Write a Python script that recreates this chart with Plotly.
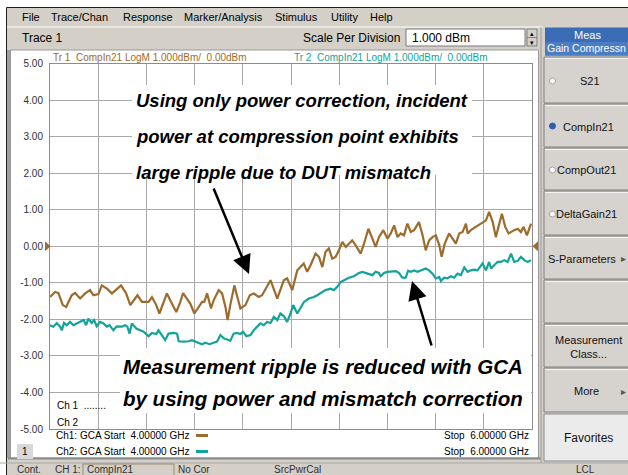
import plotly.graph_objects as go

# ---------------- data ----------------
freq_tr1 = [4.000, 4.021, 4.035, 4.053, 4.067, 4.090, 4.104, 4.125, 4.146, 4.166,
            4.180, 4.201, 4.215, 4.236, 4.257, 4.277, 4.295, 4.316, 4.333, 4.353,
            4.363, 4.381, 4.409, 4.423, 4.441, 4.454, 4.471, 4.485, 4.502, 4.524,
            4.541, 4.552, 4.568, 4.582, 4.599, 4.617, 4.631, 4.640, 4.652, 4.668,
            4.679, 4.700, 4.714, 4.728, 4.737, 4.748, 4.765, 4.779, 4.790, 4.811,
            4.829, 4.845, 4.866, 4.880, 4.901, 4.915, 4.943, 4.970, 4.984, 5.005,
            5.026, 5.040, 5.053, 5.067, 5.081, 5.102, 5.116, 5.130, 5.143, 5.157,
            5.171, 5.185, 5.199, 5.213, 5.227, 5.240, 5.254, 5.268, 5.289, 5.303,
            5.321, 5.338, 5.351, 5.365, 5.383, 5.400, 5.414, 5.428, 5.442, 5.455,
            5.469, 5.483, 5.497, 5.511, 5.531, 5.546, 5.559, 5.573, 5.587, 5.601,
            5.615, 5.625, 5.638, 5.656, 5.670, 5.684, 5.698, 5.712, 5.726, 5.733,
            5.746, 5.767, 5.788, 5.809, 5.822, 5.837, 5.850, 5.864, 5.875, 5.889,
            5.903, 5.926, 5.941, 5.954, 5.965, 5.979, 5.996]
comp_tr1 = [-1.39, -1.25, -1.28, -1.61, -1.66, -1.34, -1.28, -1.43, -1.29, -1.20,
            -1.34, -1.31, -1.07, -1.16, -1.29, -1.16, -1.07, -1.29, -1.61, -1.43,
            -1.34, -1.52, -1.52, -1.39, -1.61, -1.84, -1.52, -1.29, -1.52, -1.80,
            -1.52, -1.28, -1.43, -1.57, -1.84, -1.66, -1.52, -1.52, -1.29, -1.70,
            -1.48, -1.20, -1.29, -1.66, -2.02, -1.61, -1.07, -1.43, -1.70, -1.61,
            -1.34, -1.29, -1.39, -1.34, -1.07, -0.93, -1.43, -0.93, -0.88, -1.20,
            -0.66, -0.57, -0.47, -0.70, -0.52, -0.20, -0.29, -0.57, -0.16, -0.06,
            -0.34, -0.29, -0.11, 0.12, -0.02, 0.07, 0.16, 0.03, -0.20, 0.07,
            0.48, 0.21, -0.02, 0.25, 0.44, 0.21, 0.35, 0.57, 0.25, 0.35,
            0.30, 0.62, 0.39, 0.44, 0.66, 0.30, -0.11, 0.16, 0.25, 0.30,
            0.03, -0.29, 0.07, 0.35, 0.21, 0.07, 0.35, 0.39, 0.62, 0.35,
            0.44, 0.53, 0.62, 0.71, 0.94, 0.66, 0.25, 0.62, 0.89, 0.53,
            0.35, 0.44, 0.48, 0.39, 0.53, 0.30, 0.62]

freq_tr2 = [4.000, 4.014, 4.028, 4.042, 4.049, 4.058, 4.069, 4.083, 4.097, 4.111,
            4.125, 4.139, 4.150, 4.159, 4.173, 4.183, 4.194, 4.208, 4.222, 4.236,
            4.247, 4.263, 4.277, 4.298, 4.312, 4.321, 4.330, 4.340, 4.358, 4.374,
            4.388, 4.409, 4.423, 4.441, 4.450, 4.464, 4.478, 4.492, 4.513, 4.527,
            4.534, 4.554, 4.575, 4.589, 4.603, 4.617, 4.631, 4.644, 4.662, 4.679,
            4.693, 4.707, 4.721, 4.735, 4.748, 4.762, 4.776, 4.790, 4.801, 4.815,
            4.832, 4.845, 4.859, 4.873, 4.887, 4.901, 4.915, 4.929, 4.943, 4.956,
            4.970, 4.984, 4.998, 5.009, 5.026, 5.040,
            5.053, 5.074, 5.095, 5.109, 5.123, 5.143, 5.164, 5.178, 5.192, 5.206,
            5.220, 5.240, 5.261, 5.282, 5.296, 5.310, 5.324, 5.338, 5.351, 5.365,
            5.372, 5.386, 5.400, 5.414, 5.435, 5.448, 5.462, 5.476, 5.486, 5.497,
            5.511, 5.525, 5.538, 5.559, 5.573, 5.587, 5.601, 5.615, 5.622, 5.635,
            5.649, 5.663, 5.677, 5.691, 5.705, 5.719, 5.733, 5.746, 5.760, 5.774,
            5.795, 5.809, 5.822, 5.830, 5.843, 5.857, 5.871, 5.885, 5.899, 5.913,
            5.926, 5.941, 5.954, 5.968, 5.982, 5.996]
comp_tr2 = [-2.16, -2.20, -2.10, -2.20, -2.30, -2.10, -2.16, -2.07, -2.16, -2.11,
            -2.07, -2.02, -2.16, -1.98, -2.10, -2.02, -2.19, -2.07, -2.11, -2.20,
            -2.16, -2.30, -2.19, -2.20, -2.16, -2.20, -2.39, -2.11, -2.25, -2.30,
            -2.34, -2.46, -2.37, -2.40, -2.30, -2.43, -2.57, -2.39, -2.37, -2.39,
            -2.60, -2.61, -2.60, -2.57, -2.61, -2.64, -2.68, -2.64, -2.68, -2.64,
            -2.61, -2.43, -2.52, -2.55, -2.59, -2.39, -2.37, -2.40, -2.34, -2.46,
            -2.43, -2.30, -2.20, -2.11, -2.16, -2.07, -2.10, -1.93, -2.02, -1.84,
            -1.91, -2.07, -1.84, -1.61, -1.84, -1.68,
            -1.53, -1.43, -1.39, -1.34, -1.29, -1.20, -1.16, -1.20, -1.11, -0.98,
            -0.93, -0.86, -0.82, -0.73, -0.70, -0.73, -0.75, -0.79, -0.70, -0.73,
            -0.82, -0.73, -0.70, -0.70, -0.68, -0.73, -0.86, -0.86, -0.67, -0.70,
            -0.66, -0.70, -0.67, -0.61, -0.66, -0.75, -0.88, -0.84, -0.95, -0.86,
            -0.88, -0.82, -0.86, -0.75, -0.79, -0.58, -0.70, -0.66, -0.64, -0.66,
            -0.47, -0.66, -0.43, -0.61, -0.52, -0.43, -0.43, -0.38, -0.43, -0.20,
            -0.43, -0.40, -0.29, -0.38, -0.43, -0.38]

y_tick_values = [5, 4, 3, 2, 1, 0, -1, -2, -3, -4, -5]
y_tick_labels = ["5.00", "4.00", "3.00", "2.00", "1.00", "0.00",
                 "-1.00", "-2.00", "-3.00", "-4.00", "-5.00"]
freq_start, freq_stop, freq_div = 4.0, 6.0, 0.2
ref_level = 0.0

menu_items = ["File", "Trace/Chan", "Response", "Marker/Analysis", "Stimulus", "Utility", "Help"]
tr1_header = "Tr 1  CompIn21 LogM 1.000dBm/  0.00dBm"
tr2_header = "Tr 2  CompIn21 LogM 1.000dBm/  0.00dBm"
callout_top = ["Using only power correction, incident",
               "power at compression point exhibits",
               "large ripple due to DUT mismatch"]
callout_bottom = ["Measurement ripple is reduced with GCA",
                  "by using power and mismatch correction"]

# ---------------- layout helpers ----------------
W, H = 628, 475
def X(p): return p / W
def Y(p): return 1 - p / H

BROWN = "#9d6b2b"
TEAL = "#12a39b"
UI = "#d4d0c8"
UIF = "Liberation Sans, Arial, sans-serif"
CALLF = "Liberation Sans, Arial, sans-serif"

shapes, annotations = [], []

def rect(x0, y0, x1, y1, fill, line=None, lw=1, layer="below"):
    shapes.append(dict(type="rect", xref="paper", yref="paper",
                       x0=X(x0), x1=X(x1), y0=Y(y1), y1=Y(y0),
                       fillcolor=fill, layer=layer,
                       line=dict(color=line if line else fill, width=lw if line else 0)))

def seg(x0, y0, x1, y1, color, w=1, layer="below"):
    shapes.append(dict(type="line", xref="paper", yref="paper",
                       x0=X(x0), x1=X(x1), y0=Y(y0), y1=Y(y1),
                       line=dict(color=color, width=w), layer=layer))

def text(x, y, s, size=11, color="#000000", xanchor="left", family=UIF, bg=None, **kw):
    d = dict(xref="paper", yref="paper", x=X(x), y=Y(y), text=s, showarrow=False,
             xanchor=xanchor, yanchor="middle", borderpad=0,
             font=dict(size=size, color=color, family=family, **kw))
    if bg:
        d["bgcolor"] = bg
    annotations.append(d)

# window border
rect(0, 0, 628, 7.5, "#ffffff")
rect(0, 0, 6.5, 475, "#ffffff")
seg(6.5, 7.5, 628, 7.5, "#202020", 1)
seg(6.5, 7.5, 6.5, 475, "#202020", 1)

# menu bar
xs_menu = [21, 50, 122, 183, 274, 330, 369]
for s, x in zip(menu_items, xs_menu):
    text(x, 17, s, size=11)
seg(7, 27, 543, 27, "#ffffff", 1)

# toolbar
text(21, 37.5, "Trace 1", size=12)
text(302, 37.5, "Scale Per Division", size=12)
rect(406, 29, 525, 46, "#ffffff", "#7a7a7a", 1)
text(411, 37.5, "1.000 dBm", size=12)
rect(527, 29, 537, 37.5, UI, "#808080", 1)
rect(527, 37.5, 537, 46, UI, "#808080", 1)
text(532, 33.5, "\u25b4", size=7, xanchor="center")
text(532, 42, "\u25be", size=7, xanchor="center")

# chart window area
rect(10.5, 50, 538.5, 458, "#ffffff", "#9a9a9a", 1)
seg(8.5, 50, 8.5, 458, "#a0a0a0", 3)
seg(8, 458.5, 541, 458.5, "#8a8a8a", 2)
seg(0, 463, 628, 463, "#a8a8a8", 1)

# channel / trace header texts
text(52, 57, tr1_header, size=10, color=BROWN)
text(293, 57, tr2_header, size=10, color=TEAL)
text(56, 405, "Ch 1  ........", size=10)
text(56, 422, "Ch 2", size=10)
text(55, 435.5, "Ch1: GCA Start  4.00000 GHz", size=10)
text(55, 451.5, "Ch2: GCA Start  4.00000 GHz", size=10)
seg(196, 435.5, 208, 435.5, BROWN, 3, layer="above")
seg(196, 451.5, 208, 451.5, TEAL, 3, layer="above")
text(530, 435.5, "Stop  6.00000 GHz", size=10, xanchor="right")
text(530, 451.5, "Stop  6.00000 GHz", size=10, xanchor="right")
rect(17, 444, 33, 459, "#d8d8d8")
text(25, 451.5, "1", size=10, xanchor="center")

# status bar
text(16, 469.5, "Cont.", size=10, color="#303030")
text(54, 469.5, "CH 1:", size=10, color="#303030")
rect(83, 464, 174, 477, UI, "#9a8a70", 1)
text(86, 469.5, "CompIn21", size=10, color="#303030")
text(177, 469.5, "No Cor", size=10, color="#303030")
text(273, 469.5, "SrcPwrCal", size=10, color="#303030")
text(585, 469.5, "LCL", size=10, color="#303030", xanchor="center")

# right soft-key panel
seg(541, 27, 541, 463, "#9a9a9a", 1)
rect(545, 27.5, 630, 55.5, "#3a6db5")
rect(545, 42, 630, 55.5, "#4b7dc4")
text(587, 35, "Meas", size=11, color="#ffffff", xanchor="center")
text(586, 48.5, "Gain Compressn", size=10.5, color="#ffffff", xanchor="center")
keys = [(57, 103, "S21", 590), (104, 147, "CompIn21", 588), (148, 190, "CompOut21", 586),
        (191, 235, "DeltaGain21", 586), (236, 279, "S-Parameters", 582), (280, 323, "", 588),
        (324, 367, "Measurement<br>Class...", 588), (368, 412, "More", 586)]
for y0, y1, lbl, cx in keys:
    rect(544, y0, 631, y1, "#d6d3ce", "#808080", 1)
    seg(545, y0 + 1.5, 630, y0 + 1.5, "#f4f4f4", 1)
    if lbl:
        text(cx, (y0 + y1) / 2 + 1, lbl, size=11, color="#111111", xanchor="center")
for yc in (81, 170, 214):
    shapes.append(dict(type="circle", xref="paper", yref="paper", x0=X(549.5), x1=X(555.5),
                       y0=Y(yc + 3), y1=Y(yc - 3), fillcolor="#ffffff",
                       line=dict(color="#a0a0a0", width=1), layer="above"))
shapes.append(dict(type="circle", xref="paper", yref="paper", x0=X(549.5), x1=X(555.5),
                   y0=Y(129), y1=Y(123), fillcolor="#2d5fb0",
                   line=dict(color="#2d5fb0", width=1), layer="above"))
text(623, 258.5, "\u25b8", size=10, color="#555555", xanchor="center")
text(623, 391, "\u25b8", size=10, color="#555555", xanchor="center")
rect(544, 414, 631, 461, "#ebebeb", "#8a8a8a", 1)
text(588, 438, "Favorites", size=12, color="#111111", xanchor="center")

# reference-level triangles (0 dB)
shapes.append(dict(type="path", xref="paper", yref="y",
                   path=f"M {X(45)},{ref_level + 0.14} L {X(45)},{ref_level - 0.14} L {X(50.5)},{ref_level} Z",
                   fillcolor=BROWN, line=dict(width=0), layer="above"))
shapes.append(dict(type="path", xref="paper", yref="y",
                   path=f"M {X(538)},{ref_level + 0.14} L {X(538)},{ref_level - 0.14} L {X(532.5)},{ref_level} Z",
                   fillcolor=BROWN, line=dict(width=0), layer="above"))

# white boxes behind the call-outs
rect(132, 85, 472, 175, "#ffffff", layer="above")
rect(120, 348, 531, 413, "#ffffff", layer="above")
for i, s in enumerate(callout_top):
    text(135, 101 + i * 35.5, s, size=18.5, family=CALLF, weight="bold", style="italic")
for i, s in enumerate(callout_bottom):
    text(122, 366 + i * 32.5, s, size=20.5, family=CALLF, weight="bold", style="italic")

# arrows
annotations.append(dict(xref="paper", yref="paper", x=X(249), y=Y(274), ax=-36, ay=-87,
                        axref="pixel", ayref="pixel", text="", showarrow=True,
                        arrowhead=2, arrowsize=1.5, arrowwidth=2.5, arrowcolor="#000000"))
annotations.append(dict(xref="paper", yref="paper", x=X(412), y=Y(281), ax=20, ay=66,
                        axref="pixel", ayref="pixel", text="", showarrow=True,
                        arrowhead=2, arrowsize=1.5, arrowwidth=2.5, arrowcolor="#000000"))

# ---------------- figure ----------------
fig = go.Figure()
fig.add_trace(go.Scatter(x=freq_tr1, y=comp_tr1, mode="lines", name="Tr 1",
                         line=dict(color=BROWN, width=2.2), showlegend=False))
fig.add_trace(go.Scatter(x=freq_tr2, y=comp_tr2, mode="lines", name="Tr 2",
                         line=dict(color=TEAL, width=2.2), showlegend=False))

fig.update_layout(
    width=W, height=H, margin=dict(l=0, r=0, t=0, b=0, pad=0, autoexpand=False),
    paper_bgcolor=UI, plot_bgcolor="#ffffff",
    shapes=shapes, annotations=annotations,
    xaxis=dict(domain=[X(50), X(532)], range=[freq_start, freq_stop], dtick=freq_div,
               tick0=freq_start, showticklabels=False, ticks="", showgrid=True,
               gridcolor="#a9a9a9", gridwidth=1, zeroline=False, showline=True,
               linecolor="#8c8c8c", linewidth=1, mirror=True, fixedrange=True,
               automargin=False),
    yaxis=dict(domain=[Y(429), Y(63.5)], range=[-5, 5], tickvals=y_tick_values,
               ticktext=y_tick_labels, ticks="", showgrid=True, gridcolor="#a9a9a9",
               gridwidth=1, zeroline=False, showline=True, linecolor="#8c8c8c",
               linewidth=1, mirror=True, ticklabelstandoff=4, fixedrange=True,
               automargin=False, tickfont=dict(size=10, color="#303030", family=UIF)),
    font=dict(family=UIF),
)

fig.write_html("out.html", config={"displayModeBar": False},
               post_script="document.documentElement.style.margin='0';"
                           "document.body.style.margin='0';"
                           "document.body.style.overflow='hidden';")
